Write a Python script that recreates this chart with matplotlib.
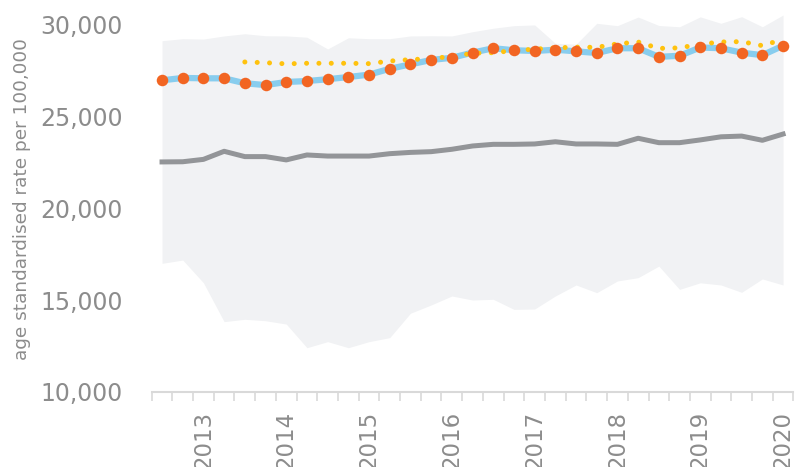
import numpy as np
import matplotlib.pyplot as plt

# quarterly series, 31 quarters; year labels sit on every 4th quarter
years = ['2013', '2014', '2015', '2016', '2017', '2018', '2019', '2020']
first_label_q = 2

rate = [26980, 27110, 27090, 27090, 26820, 26720, 26890, 26940, 27040, 27160,
        27290, 27610, 27850, 28090, 28210, 28490, 28730, 28620, 28580, 28650,
        28560, 28470, 28730, 28730, 28260, 28320, 28770, 28730, 28490, 28350,
        28870]

trend = [np.nan, np.nan, np.nan, np.nan,
         27980, 27940, 27880, 27910, 27910, 27910, 27890, 28030, 28110, 28160,
         28290, 28450, 28490, 28600, 28680, 28750, 28790, 28780, 28970, 29070,
         28720, 28750, 28950, 29070, 29090, 28870, 29220]

comparator = [22530, 22540, 22670, 23110, 22820, 22820, 22640, 22910, 22850,
              22850, 22850, 22980, 23050, 23090, 23220, 23400, 23490, 23490,
              23510, 23630, 23510, 23510, 23490, 23820, 23580, 23580, 23730,
              23900, 23940, 23710, 24050]

upper = [29140, 29250, 29230, 29400, 29520, 29410, 29400, 29330, 28690, 29300,
         29250, 29250, 29400, 29410, 29400, 29630, 29820, 29960, 30000, 29000,
         28950, 30090, 29960, 30430, 29970, 29900, 30440, 30090, 30450, 29900,
         30540]

lower = [17000, 17180, 15940, 13820, 13950, 13870, 13690, 12400, 12730, 12400,
         12730, 12950, 14280, 14730, 15220, 15000, 15040, 14490, 14510, 15220,
         15820, 15400, 16040, 16220, 16850, 15580, 15940, 15820, 15420, 16150,
         15820]

grey_txt = '#8c8c8c'
x = np.arange(len(rate))

fig = plt.figure(figsize=(7.95, 4.67), dpi=100)
ax = fig.add_axes([0.1908, 0.1612, 0.8072, 0.8388])

ax.fill_between(x, lower, upper, color='#f1f2f4', linewidth=0)
ax.plot(x, comparator, color='#939598', lw=3.6, solid_joinstyle='round')
ax.plot(x, rate, color='#88cdee', lw=4.5, solid_joinstyle='round')
ax.plot(x, trend, color='#ffc20e', lw=3.6, linestyle=(0, (0.01, 2.46)),
        dash_capstyle='round')
ax.plot(x, rate, linestyle='none', marker='o', ms=8.3,
        markerfacecolor='#f26522', markeredgecolor='none')

ax.set_xlim(-0.5, len(rate) - 0.5)
ax.set_ylim(10000, 31360)

ax.set_xticks(first_label_q + 4 * np.arange(len(years)))
ax.set_xticklabels(years, rotation=90)
ax.set_xticks(np.arange(len(rate) + 1) - 0.5, minor=True)
ax.tick_params(axis='x', which='major', length=0, pad=14,
               labelsize=16.5, labelcolor=grey_txt)
ax.tick_params(axis='x', which='minor', length=6.5, width=1.2,
               color='#d9d9d9', direction='out')

ax.set_yticks([10000, 15000, 20000, 25000, 30000])
ax.set_yticklabels(['10,000', '15,000', '20,000', '25,000', '30,000'])
ax.tick_params(axis='y', length=0, pad=21, labelsize=17, labelcolor=grey_txt)

for side in ['top', 'right', 'left']:
    ax.spines[side].set_visible(False)
ax.spines['bottom'].set_color('#d9d9d9')
ax.spines['bottom'].set_linewidth(1.5)

fig.text(21.7 / 795, 1 - 199 / 467, 'age standardised rate per 100,000',
         rotation=90, ha='center', va='center', fontsize=13.3, color=grey_txt)

fig.savefig('out.png', dpi=100)
